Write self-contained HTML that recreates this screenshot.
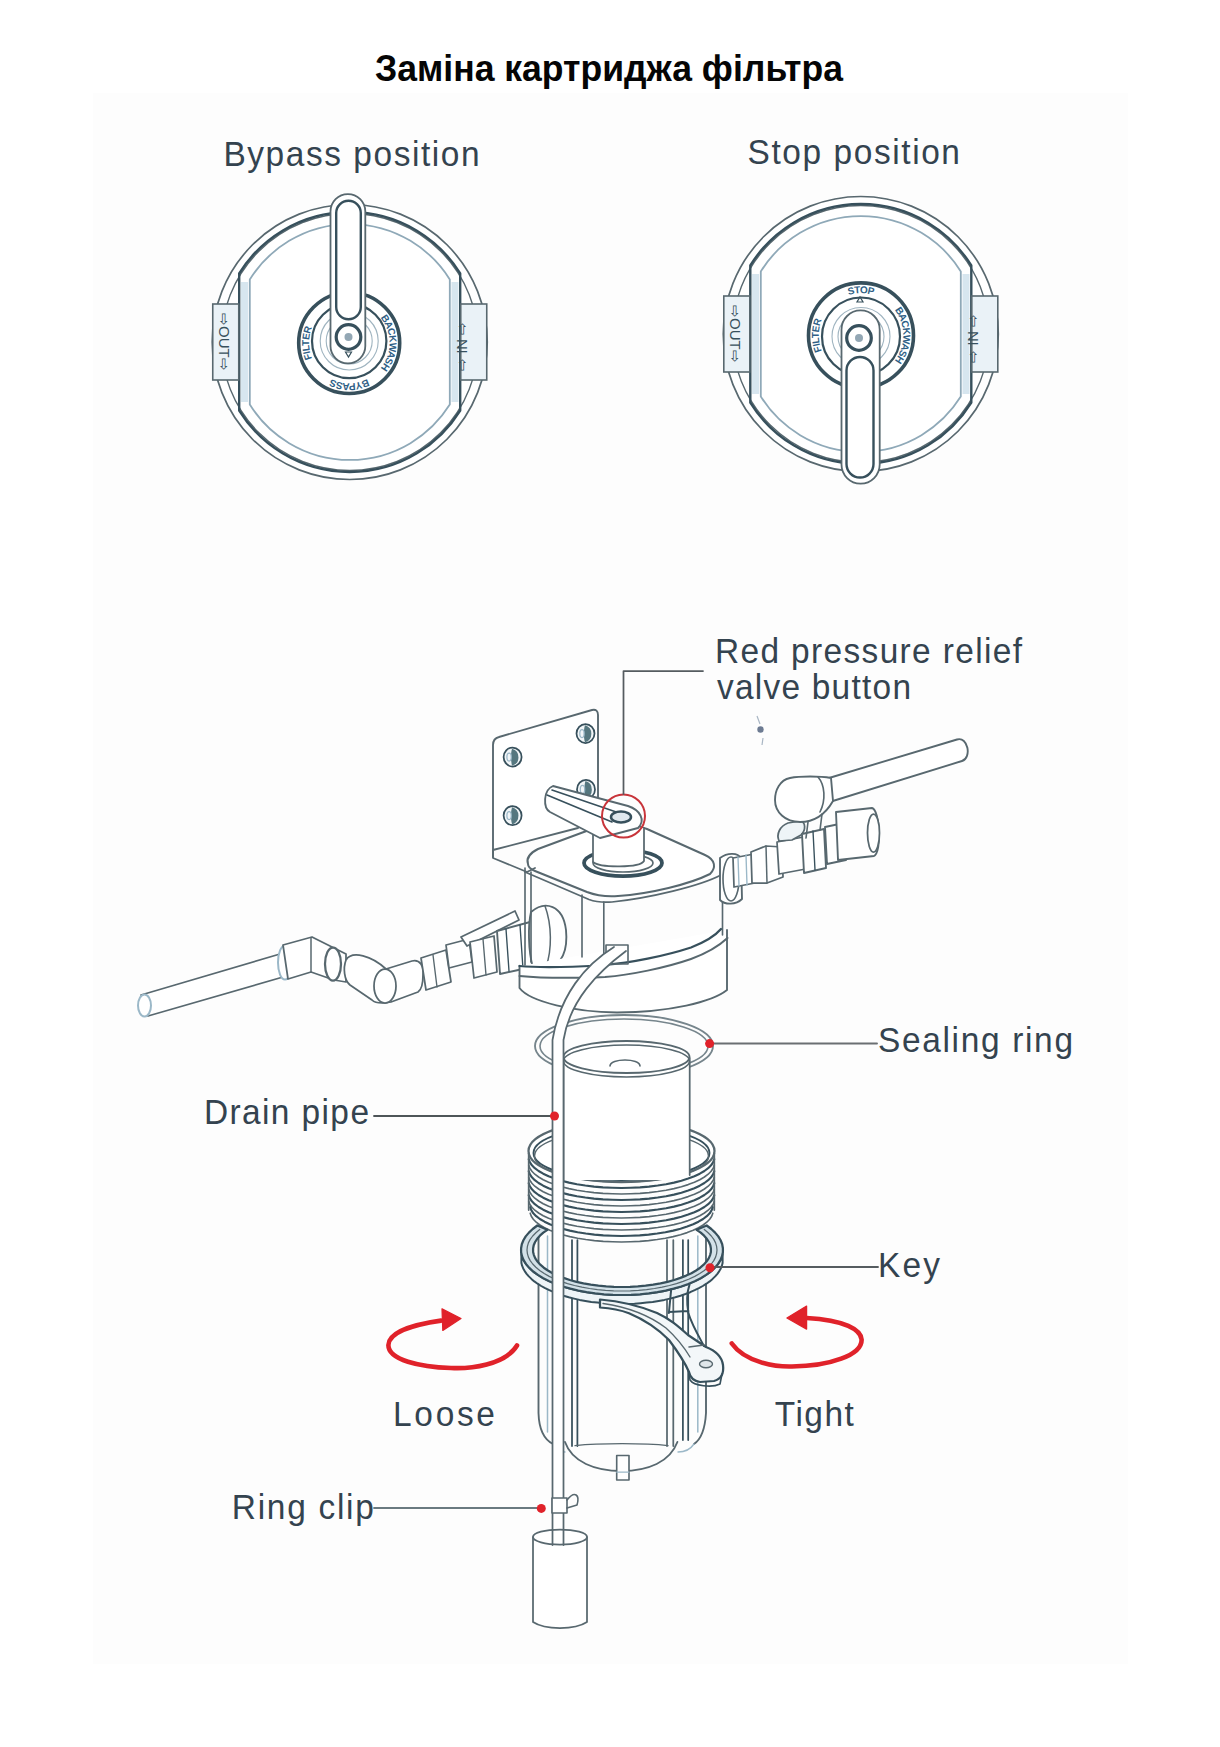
<!DOCTYPE html>
<html><head><meta charset="utf-8"><style>
html,body{margin:0;padding:0;background:#fff;}
body{width:1220px;height:1747px;overflow:hidden;position:relative;}
svg{position:absolute;left:0;top:0;}
</style></head><body>
<svg width="1220" height="1747" viewBox="0 0 1220 1747">
<rect x="93" y="93" width="1035" height="1571" fill="#fdfdfd"/><circle cx="349.75" cy="342" r="137.5" fill="#fff" stroke="#58686f" stroke-width="1.7"/><circle cx="349.75" cy="342" r="128.5" fill="none" stroke="#58686f" stroke-width="1.4"/><path d="M239.2,273.5 A130,130 0 0 1 460.2,273.5 L460.2,410.5 A130,130 0 0 1 239.2,410.5 Z" fill="none" stroke="#37505c" stroke-width="2.4"/><path d="M249.8,279.4 A118,118 0 0 1 449.8,279.4 L449.8,404.6 A118,118 0 0 1 249.8,404.6 Z" fill="none" stroke="#8fa9b8" stroke-width="1.8"/><path d="M244.55,282 L244.55,402 M454.95,282 L454.95,402" stroke="#d7e6ef" stroke-width="7"/><rect x="212.75" y="304" width="26" height="76" fill="#eaf2f7" stroke="#58686f" stroke-width="1.6"/><rect x="460.75" y="304" width="26" height="76" fill="#eaf2f7" stroke="#58686f" stroke-width="1.6"/><text transform="translate(219.25,313) rotate(90)" font-family="Liberation Sans" font-size="15" fill="#37505c">&#8680;OUT&#8680;</text><text transform="translate(467.25,371) rotate(-90)" font-family="Liberation Sans" font-size="15" fill="#37505c">&#8680; IN &#8680;</text><circle cx="349.2" cy="343" r="50.5" fill="#fff" stroke="#37505c" stroke-width="3.6"/><circle cx="349.2" cy="341" r="37.2" fill="none" stroke="#37505c" stroke-width="2.2"/><circle cx="349.2" cy="341" r="29" fill="none" stroke="#9fb4c0" stroke-width="1.1"/><circle cx="349.2" cy="341" r="23" fill="none" stroke="#9fb4c0" stroke-width="1.1"/><path id="dp3490" d="M318.2,374.0 A43.85,43.85 0 0 1 318.2,312.0" fill="none"/><text font-family="Liberation Sans" font-weight="bold" font-size="10" fill="#2f5f86" dy="3.6"><textPath href="#dp3490" startOffset="50%" text-anchor="middle">FILTER</textPath></text><path id="dp3491" d="M380.2,312.0 A43.85,43.85 0 0 1 380.2,374.0" fill="none"/><text font-family="Liberation Sans" font-weight="bold" font-size="10" fill="#2f5f86" dy="3.6"><textPath href="#dp3491" startOffset="50%" text-anchor="middle">BACKWASH</textPath></text><path id="dp3492" d="M380.2,374.0 A43.85,43.85 0 0 1 318.2,374.0" fill="none"/><text font-family="Liberation Sans" font-weight="bold" font-size="10" fill="#2f5f86" dy="3.6"><textPath href="#dp3492" startOffset="50%" text-anchor="middle">BYPASS</textPath></text><path d="M330.5,211.5 A17.4,17.4 0 0 1 365.3,211.5 L365.3,346 A17.4,17.4 0 0 1 330.5,346 Z" fill="#fff" stroke="#58686f" stroke-width="1.8"/><path d="M336.2,213 A12.3,12.3 0 0 1 360.8,213 L360.8,307 A12.3,12.3 0 0 1 336.2,307 Z" fill="#fff" stroke="#37505c" stroke-width="2.4"/><circle cx="348.5" cy="337" r="12.3" fill="#fff" stroke="#37505c" stroke-width="3.2"/><circle cx="348.5" cy="337" r="4" fill="#93a7b4"/><path d="M345.5,352 L351.5,352 L348.5,357 Z" fill="none" stroke="#37505c" stroke-width="1.2"/><circle cx="860.8" cy="334" r="137.5" fill="#fff" stroke="#58686f" stroke-width="1.7"/><circle cx="860.8" cy="334" r="128.5" fill="none" stroke="#58686f" stroke-width="1.4"/><path d="M750.3,265.5 A130,130 0 0 1 971.3,265.5 L971.3,402.5 A130,130 0 0 1 750.3,402.5 Z" fill="none" stroke="#37505c" stroke-width="2.4"/><path d="M760.8,271.4 A118,118 0 0 1 960.8,271.4 L960.8,396.6 A118,118 0 0 1 760.8,396.6 Z" fill="none" stroke="#8fa9b8" stroke-width="1.8"/><path d="M755.5999999999999,274 L755.5999999999999,394 M966.0,274 L966.0,394" stroke="#d7e6ef" stroke-width="7"/><rect x="723.8" y="296" width="26" height="76" fill="#eaf2f7" stroke="#58686f" stroke-width="1.6"/><rect x="971.8" y="296" width="26" height="76" fill="#eaf2f7" stroke="#58686f" stroke-width="1.6"/><text transform="translate(730.3,305) rotate(90)" font-family="Liberation Sans" font-size="15" fill="#37505c">&#8680;OUT&#8680;</text><text transform="translate(978.3,363) rotate(-90)" font-family="Liberation Sans" font-size="15" fill="#37505c">&#8680; IN &#8680;</text><circle cx="861" cy="335.4" r="52.5" fill="#fff" stroke="#37505c" stroke-width="3.6"/><circle cx="861" cy="336.5" r="39" fill="none" stroke="#37505c" stroke-width="2.2"/><circle cx="861" cy="336.5" r="29" fill="none" stroke="#9fb4c0" stroke-width="1.1"/><circle cx="861" cy="336.5" r="23" fill="none" stroke="#9fb4c0" stroke-width="1.1"/><path id="dp8610" d="M828.6,367.8 A45.75,45.75 0 0 1 828.6,303.0" fill="none"/><text font-family="Liberation Sans" font-weight="bold" font-size="10" fill="#2f5f86" dy="3.6"><textPath href="#dp8610" startOffset="50%" text-anchor="middle">FILTER</textPath></text><path id="dp8611" d="M893.4,303.0 A45.75,45.75 0 0 1 893.4,367.8" fill="none"/><text font-family="Liberation Sans" font-weight="bold" font-size="10" fill="#2f5f86" dy="3.6"><textPath href="#dp8611" startOffset="50%" text-anchor="middle">BACKWASH</textPath></text><path id="dp8612" d="M828.6,303.0 A45.75,45.75 0 0 1 893.4,303.0" fill="none"/><text font-family="Liberation Sans" font-weight="bold" font-size="10" fill="#2f5f86" dy="3.6"><textPath href="#dp8612" startOffset="50%" text-anchor="middle">STOP</textPath></text><path d="M841.5,329.5 A19.1,19.1 0 0 1 879.7,329.5 L879.7,464.6 A19.1,19.1 0 0 1 841.5,464.6 Z" fill="#fff" stroke="#58686f" stroke-width="1.8"/><path d="M846.5,370.5 A13.5,13.5 0 0 1 873.5,370.5 L873.5,464 A13.5,13.5 0 0 1 846.5,464 Z" fill="#fff" stroke="#37505c" stroke-width="2.4"/><circle cx="859" cy="338" r="12.3" fill="#fff" stroke="#37505c" stroke-width="3.2"/><circle cx="859" cy="338" r="4" fill="#93a7b4"/><path d="M857,302 L863,302 L860,297 Z" fill="none" stroke="#37505c" stroke-width="1.2"/><path d="M829,778 L957,739.5 C968,736 972,758 962,761 L832.8,801" fill="#fff" stroke="#58686f" stroke-width="1.875" stroke-linejoin="round" stroke-linecap="round"/><path d="M141,995 L280,954 L283,977 L148,1016 Z" fill="#fff" stroke="#58686f" stroke-width="1.75" stroke-linejoin="round" stroke-linecap="round"/><ellipse cx="144.5" cy="1005.5" rx="6.5" ry="11" fill="#fff" stroke="#9bb8c8" stroke-width="2.0"/><ellipse cx="285" cy="962.5" rx="7" ry="17" fill="#fff" stroke="#9bb8c8" stroke-width="2.0"/><path d="M283,945 L312,937 L346,954 L346,982 L334,980 L311,972 L288,979 Z" fill="#fff" stroke="#58686f" stroke-width="1.75" stroke-linejoin="round" stroke-linecap="round"/><path d="M311,938 L311,972" fill="none" stroke="#58686f" stroke-width="1.5" stroke-linejoin="round" stroke-linecap="round"/><ellipse cx="333" cy="964" rx="8" ry="16.5" fill="#fff" stroke="#58686f" stroke-width="2.25"/><path d="M346,960 C352,950 372,956 386,969 L412,961 C420,959 424,966 423,975 C423,984 421,990 418,992 L391,1002 C380,1004 374,1002 372,1000 L350,985 C344,980 343,968 346,960 Z" fill="#fff" stroke="#58686f" stroke-width="1.75" stroke-linejoin="round" stroke-linecap="round"/><ellipse cx="385" cy="986" rx="11" ry="17" fill="#fff" stroke="#58686f" stroke-width="1.75"/><path d="M421,958 L446,950 L451,982 L426,990 Z" fill="#fff" stroke="#58686f" stroke-width="1.75" stroke-linejoin="round" stroke-linecap="round"/><path d="M433,955 L437,987" fill="none" stroke="#58686f" stroke-width="1.375" stroke-linejoin="round" stroke-linecap="round"/><path d="M446,945 L469,939 L472,962 L449,968 Z" fill="#fff" stroke="#58686f" stroke-width="1.75" stroke-linejoin="round" stroke-linecap="round"/><path d="M461,937 L515,911 L519,920 L467,946 Z" fill="#fff" stroke="#58686f" stroke-width="1.75" stroke-linejoin="round" stroke-linecap="round"/><path d="M470,942 L494,936 L497,972 L474,978 Z" fill="#fff" stroke="#58686f" stroke-width="1.75" stroke-linejoin="round" stroke-linecap="round"/><path d="M483,939 L486,975" fill="none" stroke="#58686f" stroke-width="1.375" stroke-linejoin="round" stroke-linecap="round"/><path d="M497,931 L530,922 C535,935 536,955 532,967 L500,974 Z" fill="#fff" stroke="#58686f" stroke-width="1.875" stroke-linejoin="round" stroke-linecap="round"/><path d="M506,929 L509,971 M520,925 L523,969" fill="none" stroke="#37505c" stroke-width="1.375" stroke-linejoin="round" stroke-linecap="round"/><path d="M531,912 C545,900 563,905 566,930 C568,950 562,965 548,968 L533,968 C528,950 528,925 531,912 Z" fill="#fff" stroke="#58686f" stroke-width="1.875" stroke-linejoin="round" stroke-linecap="round"/><path d="M545,906 C552,925 552,950 546,967" fill="none" stroke="#58686f" stroke-width="1.5" stroke-linejoin="round" stroke-linecap="round"/><path d="M519.5,966 L519.5,988 C530,1002 575,1012 617,1012.5 C670,1012 712,1002 727,990 L727,930" fill="#fff" stroke="#58686f" stroke-width="1.875" stroke-linejoin="round" stroke-linecap="round"/><path d="M525,868 L525,965 M531,872 L531,962 M582,895 L582,957 M603.8,902 L603.8,962 M722.5,876 L722.5,935" fill="none" stroke="#58686f" stroke-width="1.625" stroke-linejoin="round" stroke-linecap="round"/><path d="M528,864 C526,858 530,853 538,849 L600,826 C612,822 635,824 647,829 L705,855 C716,860 716,868 710,874 C690,884 650,894 618,896 C605,897 595,895 587,892 L535,871 C530,869 528,867 528,864 Z" fill="#fff" stroke="#58686f" stroke-width="2.0" stroke-linejoin="round" stroke-linecap="round"/><path d="M525,872 L589,899.5 C597,902.5 605,902.5 612,902 C650,898 700,886 721,875" fill="none" stroke="#58686f" stroke-width="1.75" stroke-linejoin="round" stroke-linecap="round"/><path d="M519.5,966 C540,968 580,967 605,965 C630,963 665,956 691,947.5 C705,942 715,936 721,929" fill="none" stroke="#37505c" stroke-width="2.25" stroke-linejoin="round" stroke-linecap="round"/><path d="M519.5,976 C540,978 580,978 605,977 C630,975 665,968 691,959 C710,952 720,945 727.5,938" fill="none" stroke="#58686f" stroke-width="2.0" stroke-linejoin="round" stroke-linecap="round"/><path d="M720,858 C728,852 738,853 741,858 L742,899 C736,905 725,905 720,900 Z" fill="#fff" stroke="#58686f" stroke-width="1.875" stroke-linejoin="round" stroke-linecap="round"/><ellipse cx="731" cy="879" rx="8" ry="22" fill="none" stroke="#58686f" stroke-width="1.625"/><path d="M733,858 L754,854 L755,883 L734,887 Z" fill="#fff" stroke="#58686f" stroke-width="1.75" stroke-linejoin="round" stroke-linecap="round"/><path d="M738,857 L739,886 M746,855 L747,885" fill="none" stroke="#9bb8c8" stroke-width="1.375" stroke-linejoin="round" stroke-linecap="round"/><path d="M751,852 L766,846 L782,847 L783,877 L767,883 L752,883 Z" fill="#fff" stroke="#58686f" stroke-width="1.75" stroke-linejoin="round" stroke-linecap="round"/><path d="M766,846 L767,883" fill="none" stroke="#58686f" stroke-width="1.5" stroke-linejoin="round" stroke-linecap="round"/><path d="M777,842 L809,836 L811,868 L779,874 Z" fill="#fff" stroke="#58686f" stroke-width="1.75" stroke-linejoin="round" stroke-linecap="round"/><path d="M779,841 C776,834 780,826 788,823 L800,821 C806,822 806,830 801,835 L792,840 Z" fill="#eef4f7" stroke="#58686f" stroke-width="1.75" stroke-linejoin="round" stroke-linecap="round"/><path d="M802,834 L824,829 L826,868 L804,873 Z" fill="#fff" stroke="#58686f" stroke-width="1.875" stroke-linejoin="round" stroke-linecap="round"/><path d="M813,831 L815,870" fill="none" stroke="#37505c" stroke-width="1.375" stroke-linejoin="round" stroke-linecap="round"/><path d="M825,827 L844,823 L846,860 L827,864 Z" fill="#fff" stroke="#58686f" stroke-width="1.875" stroke-linejoin="round" stroke-linecap="round"/><path d="M836,812 L872,808 C880,810 882,852 874,856 L838,860 Z" fill="#fff" stroke="#58686f" stroke-width="1.875" stroke-linejoin="round" stroke-linecap="round"/><ellipse cx="873.5" cy="833" rx="6" ry="19" fill="#fff" stroke="#58686f" stroke-width="1.75"/><path d="M790,778 C800,776 820,776 831,778 L833,801 C825,815 815,822 800,822 C785,822 775,812 775,800 C775,790 780,780 790,778 Z" fill="#fff" stroke="#58686f" stroke-width="1.875" stroke-linejoin="round" stroke-linecap="round"/><path d="M818,777 C825,785 826,800 820,812" fill="none" stroke="#58686f" stroke-width="1.625" stroke-linejoin="round" stroke-linecap="round"/><path d="M808,822 L806,838 M822,814 L820,830" fill="none" stroke="#58686f" stroke-width="1.625" stroke-linejoin="round" stroke-linecap="round"/><path d="M493,857 L493,745 C493,740 495,738 499,737 L592,710 C596,709 598,711 598,715 L598,800 L578,828 L493,850" fill="#fff" stroke="#58686f" stroke-width="1.875" stroke-linejoin="round" stroke-linecap="round"/><path d="M493,850 L493,858 L527,872 L535,868" fill="none" stroke="#58686f" stroke-width="1.75" stroke-linejoin="round" stroke-linecap="round"/><ellipse cx="512.6" cy="757" rx="9" ry="9.5" fill="#f2f6f8" stroke="#37505c" stroke-width="1.75"/><path d="M512.1,748.7 A8.3,8.8 0 0 1 512.1,765.8 C510.6,761 510.6,753 512.1,748.7 Z" fill="#55777f"/><ellipse cx="509.1" cy="757" rx="2.2" ry="4" fill="none" stroke="#9bb8c8" stroke-width="1.25"/><ellipse cx="585.5" cy="733.5" rx="9" ry="9.5" fill="#f2f6f8" stroke="#37505c" stroke-width="1.75"/><path d="M585.0,725.2 A8.3,8.8 0 0 1 585.0,742.3 C583.5,737.5 583.5,729.5 585.0,725.2 Z" fill="#55777f"/><ellipse cx="582.0" cy="733.5" rx="2.2" ry="4" fill="none" stroke="#9bb8c8" stroke-width="1.25"/><ellipse cx="512.6" cy="815.6" rx="9" ry="9.5" fill="#f2f6f8" stroke="#37505c" stroke-width="1.75"/><path d="M512.1,807.3000000000001 A8.3,8.8 0 0 1 512.1,824.4 C510.6,819.6 510.6,811.6 512.1,807.3000000000001 Z" fill="#55777f"/><ellipse cx="509.1" cy="815.6" rx="2.2" ry="4" fill="none" stroke="#9bb8c8" stroke-width="1.25"/><ellipse cx="586" cy="789.4" rx="9" ry="9.5" fill="#f2f6f8" stroke="#37505c" stroke-width="1.75"/><path d="M585.5,781.1 A8.3,8.8 0 0 1 585.5,798.1999999999999 C584,793.4 584,785.4 585.5,781.1 Z" fill="#55777f"/><ellipse cx="582.5" cy="789.4" rx="2.2" ry="4" fill="none" stroke="#9bb8c8" stroke-width="1.25"/><ellipse cx="623" cy="863" rx="39" ry="13" fill="#fff" stroke="#37505c" stroke-width="3.75"/><ellipse cx="623" cy="863" rx="30" ry="9" fill="#fff" stroke="#58686f" stroke-width="1.625"/><path d="M593,828 L593,862 C600,868 640,868 644,861 L644,828" fill="#fff" stroke="#58686f" stroke-width="1.75" stroke-linejoin="round" stroke-linecap="round"/><path d="M553,786 L628,806 C640,810 646,820 638,828 L600,838 L550,812 C543,808 543,790 553,786 Z" fill="#fff" stroke="#58686f" stroke-width="1.875" stroke-linejoin="round" stroke-linecap="round"/><path d="M547,795 L612,822 M552,790 L625,815" fill="none" stroke="#37505c" stroke-width="1.625" stroke-linejoin="round" stroke-linecap="round"/><ellipse cx="621" cy="817" rx="10" ry="5.5" fill="#dfe8ee" stroke="#37505c" stroke-width="2.5"/><path d="M606,945 L628,945 L628,964 L606,964 Z" fill="none" stroke="#58686f" stroke-width="1.625" stroke-linejoin="round" stroke-linecap="round"/><ellipse cx="624" cy="1046" rx="89" ry="31" fill="none" stroke="#76858c" stroke-width="1.875"/><ellipse cx="624" cy="1046" rx="84" ry="27" fill="none" stroke="#76858c" stroke-width="1.625"/><ellipse cx="621.5" cy="1151" rx="93" ry="31" fill="#fff" stroke="#58686f" stroke-width="2.25"/><ellipse cx="621.5" cy="1153" rx="88" ry="27" fill="none" stroke="#37505c" stroke-width="1.875"/><ellipse cx="621.5" cy="1156" rx="87" ry="26" fill="none" stroke="#58686f" stroke-width="1.5"/><rect x="563.5" y="1057" width="126.2" height="123" fill="#fff"/><path d="M563.5,1058 L563.5,1180 M689.7,1058 L689.7,1175" fill="none" stroke="#58686f" stroke-width="1.75" stroke-linejoin="round" stroke-linecap="round"/><ellipse cx="626.5" cy="1057" rx="63" ry="16" fill="#fff" stroke="#58686f" stroke-width="1.875"/><ellipse cx="626.5" cy="1061" rx="63" ry="16" fill="none" stroke="#58686f" stroke-width="1.625"/><path d="M610,1066 C610,1058 640,1058 640,1066" fill="none" stroke="#58686f" stroke-width="1.625" stroke-linejoin="round" stroke-linecap="round"/><path d="M714.3,1159.2 L713.2,1162.2 L711.1,1165.3 L708.2,1168.2 L704.4,1171.0 L699.8,1173.7 L694.4,1176.3 L688.2,1178.6 L681.4,1180.7 L674.0,1182.6 L666.1,1184.2 L657.7,1185.5 L649.0,1186.6 L640.0,1187.4 L630.8,1187.8 L621.5,1188.0 L612.2,1187.8 L603.0,1187.4 L594.0,1186.6 L585.3,1185.5 L576.9,1184.2 L569.0,1182.6 L561.6,1180.7 L554.8,1178.6 L548.6,1176.3 L543.2,1173.7 L538.6,1171.0 L534.8,1168.2 L531.9,1165.3 L529.8,1162.2 L528.7,1159.2" fill="none" stroke="#37505c" stroke-width="2.125" stroke-linejoin="round" stroke-linecap="round"/><path d="M714.3,1165.2 L713.2,1168.2 L711.1,1171.3 L708.2,1174.2 L704.4,1177.0 L699.8,1179.7 L694.4,1182.3 L688.2,1184.6 L681.4,1186.7 L674.0,1188.6 L666.1,1190.2 L657.7,1191.5 L649.0,1192.6 L640.0,1193.4 L630.8,1193.8 L621.5,1194.0 L612.2,1193.8 L603.0,1193.4 L594.0,1192.6 L585.3,1191.5 L576.9,1190.2 L569.0,1188.6 L561.6,1186.7 L554.8,1184.6 L548.6,1182.3 L543.2,1179.7 L538.6,1177.0 L534.8,1174.2 L531.9,1171.3 L529.8,1168.2 L528.7,1165.2" fill="none" stroke="#58686f" stroke-width="1.625" stroke-linejoin="round" stroke-linecap="round"/><path d="M714.3,1171.2 L713.2,1174.2 L711.1,1177.3 L708.2,1180.2 L704.4,1183.0 L699.8,1185.7 L694.4,1188.3 L688.2,1190.6 L681.4,1192.7 L674.0,1194.6 L666.1,1196.2 L657.7,1197.5 L649.0,1198.6 L640.0,1199.4 L630.8,1199.8 L621.5,1200.0 L612.2,1199.8 L603.0,1199.4 L594.0,1198.6 L585.3,1197.5 L576.9,1196.2 L569.0,1194.6 L561.6,1192.7 L554.8,1190.6 L548.6,1188.3 L543.2,1185.7 L538.6,1183.0 L534.8,1180.2 L531.9,1177.3 L529.8,1174.2 L528.7,1171.2" fill="none" stroke="#37505c" stroke-width="2.125" stroke-linejoin="round" stroke-linecap="round"/><path d="M714.3,1177.2 L713.2,1180.2 L711.1,1183.3 L708.2,1186.2 L704.4,1189.0 L699.8,1191.7 L694.4,1194.3 L688.2,1196.6 L681.4,1198.7 L674.0,1200.6 L666.1,1202.2 L657.7,1203.5 L649.0,1204.6 L640.0,1205.4 L630.8,1205.8 L621.5,1206.0 L612.2,1205.8 L603.0,1205.4 L594.0,1204.6 L585.3,1203.5 L576.9,1202.2 L569.0,1200.6 L561.6,1198.7 L554.8,1196.6 L548.6,1194.3 L543.2,1191.7 L538.6,1189.0 L534.8,1186.2 L531.9,1183.3 L529.8,1180.2 L528.7,1177.2" fill="none" stroke="#58686f" stroke-width="1.625" stroke-linejoin="round" stroke-linecap="round"/><path d="M714.3,1183.2 L713.2,1186.2 L711.1,1189.3 L708.2,1192.2 L704.4,1195.0 L699.8,1197.7 L694.4,1200.3 L688.2,1202.6 L681.4,1204.7 L674.0,1206.6 L666.1,1208.2 L657.7,1209.5 L649.0,1210.6 L640.0,1211.4 L630.8,1211.8 L621.5,1212.0 L612.2,1211.8 L603.0,1211.4 L594.0,1210.6 L585.3,1209.5 L576.9,1208.2 L569.0,1206.6 L561.6,1204.7 L554.8,1202.6 L548.6,1200.3 L543.2,1197.7 L538.6,1195.0 L534.8,1192.2 L531.9,1189.3 L529.8,1186.2 L528.7,1183.2" fill="none" stroke="#37505c" stroke-width="2.125" stroke-linejoin="round" stroke-linecap="round"/><path d="M714.3,1189.2 L713.2,1192.2 L711.1,1195.3 L708.2,1198.2 L704.4,1201.0 L699.8,1203.7 L694.4,1206.3 L688.2,1208.6 L681.4,1210.7 L674.0,1212.6 L666.1,1214.2 L657.7,1215.5 L649.0,1216.6 L640.0,1217.4 L630.8,1217.8 L621.5,1218.0 L612.2,1217.8 L603.0,1217.4 L594.0,1216.6 L585.3,1215.5 L576.9,1214.2 L569.0,1212.6 L561.6,1210.7 L554.8,1208.6 L548.6,1206.3 L543.2,1203.7 L538.6,1201.0 L534.8,1198.2 L531.9,1195.3 L529.8,1192.2 L528.7,1189.2" fill="none" stroke="#58686f" stroke-width="1.625" stroke-linejoin="round" stroke-linecap="round"/><path d="M714.3,1195.2 L713.2,1198.2 L711.1,1201.3 L708.2,1204.2 L704.4,1207.0 L699.8,1209.7 L694.4,1212.3 L688.2,1214.6 L681.4,1216.7 L674.0,1218.6 L666.1,1220.2 L657.7,1221.5 L649.0,1222.6 L640.0,1223.4 L630.8,1223.8 L621.5,1224.0 L612.2,1223.8 L603.0,1223.4 L594.0,1222.6 L585.3,1221.5 L576.9,1220.2 L569.0,1218.6 L561.6,1216.7 L554.8,1214.6 L548.6,1212.3 L543.2,1209.7 L538.6,1207.0 L534.8,1204.2 L531.9,1201.3 L529.8,1198.2 L528.7,1195.2" fill="none" stroke="#37505c" stroke-width="2.125" stroke-linejoin="round" stroke-linecap="round"/><path d="M714.3,1201.2 L713.2,1204.2 L711.1,1207.3 L708.2,1210.2 L704.4,1213.0 L699.8,1215.7 L694.4,1218.3 L688.2,1220.6 L681.4,1222.7 L674.0,1224.6 L666.1,1226.2 L657.7,1227.5 L649.0,1228.6 L640.0,1229.4 L630.8,1229.8 L621.5,1230.0 L612.2,1229.8 L603.0,1229.4 L594.0,1228.6 L585.3,1227.5 L576.9,1226.2 L569.0,1224.6 L561.6,1222.7 L554.8,1220.6 L548.6,1218.3 L543.2,1215.7 L538.6,1213.0 L534.8,1210.2 L531.9,1207.3 L529.8,1204.2 L528.7,1201.2" fill="none" stroke="#58686f" stroke-width="1.625" stroke-linejoin="round" stroke-linecap="round"/><path d="M712.8,1207.2 L711.7,1210.2 L709.7,1213.3 L706.8,1216.2 L703.1,1219.0 L698.5,1221.7 L693.2,1224.3 L687.2,1226.6 L680.5,1228.7 L673.2,1230.6 L665.4,1232.2 L657.2,1233.5 L648.6,1234.6 L639.7,1235.4 L630.6,1235.8 L621.5,1236.0 L612.4,1235.8 L603.3,1235.4 L594.4,1234.6 L585.8,1233.5 L577.6,1232.2 L569.8,1230.6 L562.5,1228.7 L555.8,1226.6 L549.8,1224.3 L544.5,1221.7 L539.9,1219.0 L536.2,1216.2 L533.3,1213.3 L531.3,1210.2 L530.2,1207.2" fill="none" stroke="#37505c" stroke-width="2.125" stroke-linejoin="round" stroke-linecap="round"/><path d="M712.8,1213.2 L711.7,1216.2 L709.7,1219.3 L706.8,1222.2 L703.1,1225.0 L698.5,1227.7 L693.2,1230.3 L687.2,1232.6 L680.5,1234.7 L673.2,1236.6 L665.4,1238.2 L657.2,1239.5 L648.6,1240.6 L639.7,1241.4 L630.6,1241.8 L621.5,1242.0 L612.4,1241.8 L603.3,1241.4 L594.4,1240.6 L585.8,1239.5 L577.6,1238.2 L569.8,1236.6 L562.5,1234.7 L555.8,1232.6 L549.8,1230.3 L544.5,1227.7 L539.9,1225.0 L536.2,1222.2 L533.3,1219.3 L531.3,1216.2 L530.2,1213.2" fill="none" stroke="#58686f" stroke-width="1.625" stroke-linejoin="round" stroke-linecap="round"/><path d="M528.7,1153 L528.7,1210 M714.3,1153 L714.3,1210" fill="none" stroke="#58686f" stroke-width="1.75" stroke-linejoin="round" stroke-linecap="round"/><path d="M538.5,1236 L538.5,1413 C539,1430 545,1440 553,1444 M706,1236 L706,1413 C705,1430 700,1440 694,1444" fill="none" stroke="#58686f" stroke-width="1.875" stroke-linejoin="round" stroke-linecap="round"/><path d="M547.5,1236 L547.5,1432" fill="none" stroke="#9bb8c8" stroke-width="1.5" stroke-linejoin="round" stroke-linecap="round"/><path d="M697.8,1236 L697.8,1432" fill="none" stroke="#9bb8c8" stroke-width="1.5" stroke-linejoin="round" stroke-linecap="round"/><path d="M572,1240 L572,1446 M577.4,1240 L577.4,1446" fill="none" stroke="#37505c" stroke-width="1.75" stroke-linejoin="round" stroke-linecap="round"/><path d="M667,1240 L667,1446 M673.3,1240 L673.3,1446" fill="none" stroke="#58686f" stroke-width="1.75" stroke-linejoin="round" stroke-linecap="round"/><path d="M682.9,1240 L682.9,1440 M688.2,1240 L688.2,1440" fill="none" stroke="#37505c" stroke-width="1.75" stroke-linejoin="round" stroke-linecap="round"/><path d="M565,1442 C572,1462 595,1471 621.6,1471 C648,1471 670,1462 677.4,1442" fill="none" stroke="#58686f" stroke-width="1.875" stroke-linejoin="round" stroke-linecap="round"/><path d="M575,1445.6 C600,1443 645,1443 668,1445.6" fill="none" stroke="#58686f" stroke-width="1.375" stroke-linejoin="round" stroke-linecap="round"/><path d="M553,1444 C556,1450 560,1452 565,1452 M694,1444 C690,1450 684,1452 678,1452" fill="none" stroke="#9bb8c8" stroke-width="1.375" stroke-linejoin="round" stroke-linecap="round"/><path d="M616.7,1455.5 L616.7,1480 L629,1480 L629,1455.5 Z" fill="#fff" stroke="#58686f" stroke-width="1.625" stroke-linejoin="round" stroke-linecap="round"/><path d="M616.7,1472 L629,1472" fill="none" stroke="#9bb8c8" stroke-width="1.25" stroke-linejoin="round" stroke-linecap="round"/><path d="M521.4,1262.9 L522.1,1265.7 L523.2,1268.4 L524.7,1271.1 L526.6,1273.8 L528.8,1276.4 L531.4,1278.9 L534.3,1281.4 L537.6,1283.7 L541.2,1286.0 L545.1,1288.2 L549.3,1290.2 L553.8,1292.2 L558.5,1294.0 L563.5,1295.7 L568.7,1297.2 L574.1,1298.6 L579.6,1299.9 L585.4,1300.9 L591.3,1301.9 L597.3,1302.6 L603.4,1303.2 L609.5,1303.7 L615.8,1303.9 L622.0,1304.0 L628.2,1303.9 L634.5,1303.7 L640.6,1303.2 L646.7,1302.6 L652.7,1301.9 L658.6,1300.9 L664.4,1299.9 L669.9,1298.6 L675.3,1297.2 L680.5,1295.7 L685.5,1294.0 L690.2,1292.2 L694.7,1290.2 L698.9,1288.2 L702.8,1286.0 L706.4,1283.7 L709.7,1281.4 L712.6,1278.9 L715.2,1276.4 L717.4,1273.8 L719.3,1271.1 L720.8,1268.4 L721.9,1265.7 L722.6,1262.9 L722.6,1253.9 L721.9,1256.7 L720.8,1259.4 L719.3,1262.1 L717.4,1264.8 L715.2,1267.4 L712.6,1269.9 L709.7,1272.4 L706.4,1274.7 L702.8,1277.0 L698.9,1279.2 L694.7,1281.2 L690.2,1283.2 L685.5,1285.0 L680.5,1286.7 L675.3,1288.2 L669.9,1289.6 L664.4,1290.9 L658.6,1291.9 L652.7,1292.9 L646.7,1293.6 L640.6,1294.2 L634.5,1294.7 L628.2,1294.9 L622.0,1295.0 L615.8,1294.9 L609.5,1294.7 L603.4,1294.2 L597.3,1293.6 L591.3,1292.9 L585.4,1291.9 L579.6,1290.9 L574.1,1289.6 L568.7,1288.2 L563.5,1286.7 L558.5,1285.0 L553.8,1283.2 L549.3,1281.2 L545.1,1279.2 L541.2,1277.0 L537.6,1274.7 L534.3,1272.4 L531.4,1269.9 L528.8,1267.4 L526.6,1264.8 L524.7,1262.1 L523.2,1259.4 L522.1,1256.7 L521.4,1253.9 Z" fill="#eef4f7" stroke="#37505c" stroke-width="2.0" stroke-linejoin="round" stroke-linecap="round"/><path d="M537.3,1225.5 L532.7,1229.0 L528.9,1232.6 L525.7,1236.4 L523.4,1240.3 L521.8,1244.2 L521.1,1248.2 L521.1,1252.3 L522.0,1256.3 L523.6,1260.2 L526.1,1264.1 L529.3,1267.9 L533.2,1271.5 L537.9,1274.9 L543.2,1278.2 L549.2,1281.2 L555.7,1284.0 L562.8,1286.5 L570.4,1288.7 L578.3,1290.6 L586.6,1292.2 L595.2,1293.4 L604.0,1294.3 L613.0,1294.8 L622.0,1295.0 L631.0,1294.8 L640.0,1294.3 L648.8,1293.4 L657.4,1292.2 L665.7,1290.6 L673.6,1288.7 L681.2,1286.5 L688.3,1284.0 L694.8,1281.2 L700.8,1278.2 L706.1,1274.9 L710.8,1271.5 L714.7,1267.9 L717.9,1264.1 L720.4,1260.2 L722.0,1256.3 L722.9,1252.3 L722.9,1248.2 L722.2,1244.2 L720.6,1240.3 L718.3,1236.4 L715.1,1232.6 L711.3,1229.0 L706.7,1225.5 L696.6,1229.8 L700.7,1232.7 L704.1,1235.7 L706.8,1238.8 L708.9,1242.0 L710.3,1245.3 L710.9,1248.5 L710.9,1251.9 L710.1,1255.1 L708.7,1258.4 L706.5,1261.6 L703.7,1264.7 L700.2,1267.7 L696.1,1270.5 L691.4,1273.2 L686.2,1275.6 L680.4,1277.9 L674.2,1280.0 L667.5,1281.8 L660.5,1283.4 L653.2,1284.7 L645.6,1285.7 L637.8,1286.4 L630.0,1286.9 L622.0,1287.0 L614.0,1286.9 L606.2,1286.4 L598.4,1285.7 L590.8,1284.7 L583.5,1283.4 L576.5,1281.8 L569.8,1280.0 L563.6,1277.9 L557.8,1275.6 L552.6,1273.2 L547.9,1270.5 L543.8,1267.7 L540.3,1264.7 L537.5,1261.6 L535.3,1258.4 L533.9,1255.1 L533.1,1251.9 L533.1,1248.5 L533.7,1245.3 L535.1,1242.0 L537.2,1238.8 L539.9,1235.7 L543.3,1232.7 L547.4,1229.8 Z" fill="#d3e1e8" stroke="#37505c" stroke-width="2.25" stroke-linejoin="round" stroke-linecap="round"/><path d="M539.7,1229.5 L535.9,1232.7 L532.7,1236.0 L530.2,1239.4 L528.4,1242.9 L527.4,1246.4 L527.0,1250.0 L527.4,1253.6 L528.4,1257.1 L530.2,1260.6 L532.7,1264.0 L535.9,1267.3 L539.7,1270.5 L544.2,1273.5 L549.2,1276.4 L554.8,1279.0 L560.9,1281.4 L567.5,1283.6 L574.5,1285.5 L581.9,1287.2 L589.5,1288.5 L597.4,1289.6 L605.5,1290.4 L613.7,1290.8 L622.0,1291.0 L630.3,1290.8 L638.5,1290.4 L646.6,1289.6 L654.5,1288.5 L662.1,1287.2 L669.5,1285.5 L676.5,1283.6 L683.1,1281.4 L689.2,1279.0 L694.8,1276.4 L699.8,1273.5 L704.3,1270.5 L708.1,1267.3 L711.3,1264.0 L713.8,1260.6 L715.6,1257.1 L716.6,1253.6 L717.0,1250.0 L716.6,1246.4 L715.6,1242.9 L713.8,1239.4 L711.3,1236.0 L708.1,1232.7 L704.3,1229.5" fill="none" stroke="#58686f" stroke-width="1.25" stroke-linejoin="round" stroke-linecap="round"/><path d="M600,1299.5 C618,1301 640,1306 657,1313 C670,1319 678,1326 688,1335 L706,1347 C716,1351 722,1357 723,1365 C724,1373 721,1379 714,1381 L700,1382 C694,1381 690,1377 689,1372 C686,1365 678,1352 669,1340 C660,1331 645,1320 629,1313.3 C618,1309 608,1308 600,1307.5 Z" fill="#f3f7f9" stroke="#37505c" stroke-width="2.25" stroke-linejoin="round" stroke-linecap="round"/><path d="M603,1303.5 C628,1307 650,1316 666,1328 C676,1337 684,1347 690,1357" fill="none" stroke="#58686f" stroke-width="1.375" stroke-linejoin="round" stroke-linecap="round"/><path d="M671.2,1289.2 L668.9,1313 M689.5,1284.6 C686,1295 687,1305 688.4,1313.3 C692,1325 698,1335 704,1346 M669,1312 L688.4,1311" fill="none" stroke="#37505c" stroke-width="2.0" stroke-linejoin="round" stroke-linecap="round"/><path d="M689,1347 L704,1345" fill="none" stroke="#58686f" stroke-width="1.5" stroke-linejoin="round" stroke-linecap="round"/><path d="M689,1372 L690,1380 C694,1386 712,1388 720,1384 L722,1374" fill="none" stroke="#37505c" stroke-width="1.625" stroke-linejoin="round" stroke-linecap="round"/><ellipse cx="706" cy="1364" rx="6.5" ry="3.8" fill="#dfe6ea" stroke="#58686f" stroke-width="1.375"/><path d="M614,947 C585,965 560,995 552.5,1040 L552.5,1545 L563.5,1545 L563.5,1040 C570,1000 598,972 626,951 Z" fill="#fff" stroke="none" stroke-width="0.0" stroke-linejoin="round" stroke-linecap="round"/><path d="M614,947 C585,965 560,995 552.5,1040 L552.5,1545" fill="none" stroke="#58686f" stroke-width="1.75" stroke-linejoin="round" stroke-linecap="round"/><path d="M626,951 C598,972 570,1000 563.5,1040 L563.5,1545" fill="none" stroke="#58686f" stroke-width="1.75" stroke-linejoin="round" stroke-linecap="round"/><path d="M533,1537 L533,1622 C545,1630 575,1630 587,1622 L587,1537" fill="#fff" stroke="#58686f" stroke-width="1.75" stroke-linejoin="round" stroke-linecap="round"/><ellipse cx="560" cy="1537" rx="27" ry="7.5" fill="#fff" stroke="#58686f" stroke-width="1.75"/><path d="M552.5,1530 L552.5,1545 M563.5,1530 L563.5,1545" fill="none" stroke="#58686f" stroke-width="1.75" stroke-linejoin="round" stroke-linecap="round"/><path d="M552,1498 L567,1498 L567,1513 L552,1513 Z" fill="#fff" stroke="#58686f" stroke-width="1.625" stroke-linejoin="round" stroke-linecap="round"/><path d="M567,1500 C575,1490 580,1495 577,1505 L567,1508" fill="none" stroke="#58686f" stroke-width="1.625" stroke-linejoin="round" stroke-linecap="round"/><circle cx="760.5" cy="729.5" r="3.2" fill="#6d7b92"/><path d="M757,716 L760,724 M763,738 L762,745" stroke="#a9b6c4" stroke-width="1.2"/><circle cx="623.5" cy="816" r="21.5" fill="none" stroke="#c8343a" stroke-width="2"/><path d="M703,671 L623.5,671 L623.5,794" fill="none" stroke="#555c60" stroke-width="1.75" stroke-linejoin="round" stroke-linecap="round"/><path d="M710,1043.5 L877,1043.5" fill="none" stroke="#6a6f72" stroke-width="1.875" stroke-linejoin="round" stroke-linecap="round"/><path d="M374,1116 L554,1116" fill="none" stroke="#4e5558" stroke-width="1.875" stroke-linejoin="round" stroke-linecap="round"/><path d="M712,1267 L878,1267" fill="none" stroke="#555c60" stroke-width="1.875" stroke-linejoin="round" stroke-linecap="round"/><path d="M374,1508 L541,1508" fill="none" stroke="#6a7a80" stroke-width="1.875" stroke-linejoin="round" stroke-linecap="round"/><circle cx="709.6" cy="1043.6" r="4.5" fill="#e0222a"/><circle cx="554.5" cy="1116" r="4.5" fill="#e0222a"/><circle cx="710" cy="1267.7" r="4.5" fill="#e0222a"/><circle cx="541.3" cy="1508.4" r="4.5" fill="#e0222a"/><path d="M517,1345.5 C505,1365 470,1369 451,1368 C420,1367 388,1360 388.4,1345 C389,1333 410,1325 441,1320.6" fill="none" stroke="#e0222a" stroke-width="4.625" stroke-linejoin="round" stroke-linecap="round"/><path d="M461,1318.6 L442,1308.8 L442.8,1330.4 Z" fill="#e0222a" stroke="#e0222a" stroke-width="1.25" stroke-linejoin="round" stroke-linecap="round"/><path d="M731.8,1343.5 C745,1362 775,1367 792,1366.5 C830,1366 862,1355 861.6,1339.6 C861,1330 845,1320 806.6,1318" fill="none" stroke="#e0222a" stroke-width="4.625" stroke-linejoin="round" stroke-linecap="round"/><path d="M786.9,1318 L806.6,1306.1 L806.6,1329.1 Z" fill="#e0222a" stroke="#e0222a" stroke-width="1.25" stroke-linejoin="round" stroke-linecap="round"/><g transform="translate(375,80.5) scale(1,1)"><text x="0" y="0" font-family="Liberation Sans" font-size="36.5" font-weight="bold" fill="#050505" textLength="468.00" lengthAdjust="spacingAndGlyphs">Заміна картриджа фільтра</text></g><g transform="translate(223.5,166) scale(0.97,1)"><text x="0" y="0" font-family="Liberation Sans" font-size="34.5" font-weight="normal" fill="#34434f" textLength="263.92" lengthAdjust="spacing">Bypass position</text></g><g transform="translate(747.5,164) scale(0.97,1)"><text x="0" y="0" font-family="Liberation Sans" font-size="34.5" font-weight="normal" fill="#34434f" textLength="219.07" lengthAdjust="spacing">Stop position</text></g><g transform="translate(715,663) scale(0.97,1)"><text x="0" y="0" font-family="Liberation Sans" font-size="34.5" font-weight="normal" fill="#34434f" textLength="316.49" lengthAdjust="spacing">Red pressure relief</text></g><g transform="translate(717,699) scale(0.97,1)"><text x="0" y="0" font-family="Liberation Sans" font-size="34.5" font-weight="normal" fill="#34434f" textLength="200.00" lengthAdjust="spacing">valve button</text></g><g transform="translate(878,1052) scale(0.97,1)"><text x="0" y="0" font-family="Liberation Sans" font-size="34.5" font-weight="normal" fill="#34434f" textLength="201.03" lengthAdjust="spacing">Sealing ring</text></g><g transform="translate(204,1124) scale(0.97,1)"><text x="0" y="0" font-family="Liberation Sans" font-size="34.5" font-weight="normal" fill="#34434f" textLength="170.10" lengthAdjust="spacing">Drain pipe</text></g><g transform="translate(878,1276.5) scale(0.97,1)"><text x="0" y="0" font-family="Liberation Sans" font-size="34.5" font-weight="normal" fill="#34434f" textLength="63.92" lengthAdjust="spacing">Key</text></g><g transform="translate(393,1425.5) scale(0.97,1)"><text x="0" y="0" font-family="Liberation Sans" font-size="34.5" font-weight="normal" fill="#34434f" textLength="105.15" lengthAdjust="spacing">Loose</text></g><g transform="translate(774.8,1425.5) scale(0.97,1)"><text x="0" y="0" font-family="Liberation Sans" font-size="34.5" font-weight="normal" fill="#34434f" textLength="81.44" lengthAdjust="spacing">Tight</text></g><g transform="translate(231.8,1518.5) scale(0.97,1)"><text x="0" y="0" font-family="Liberation Sans" font-size="34.5" font-weight="normal" fill="#34434f" textLength="146.39" lengthAdjust="spacing">Ring clip</text></g>
</svg>
</body></html>
